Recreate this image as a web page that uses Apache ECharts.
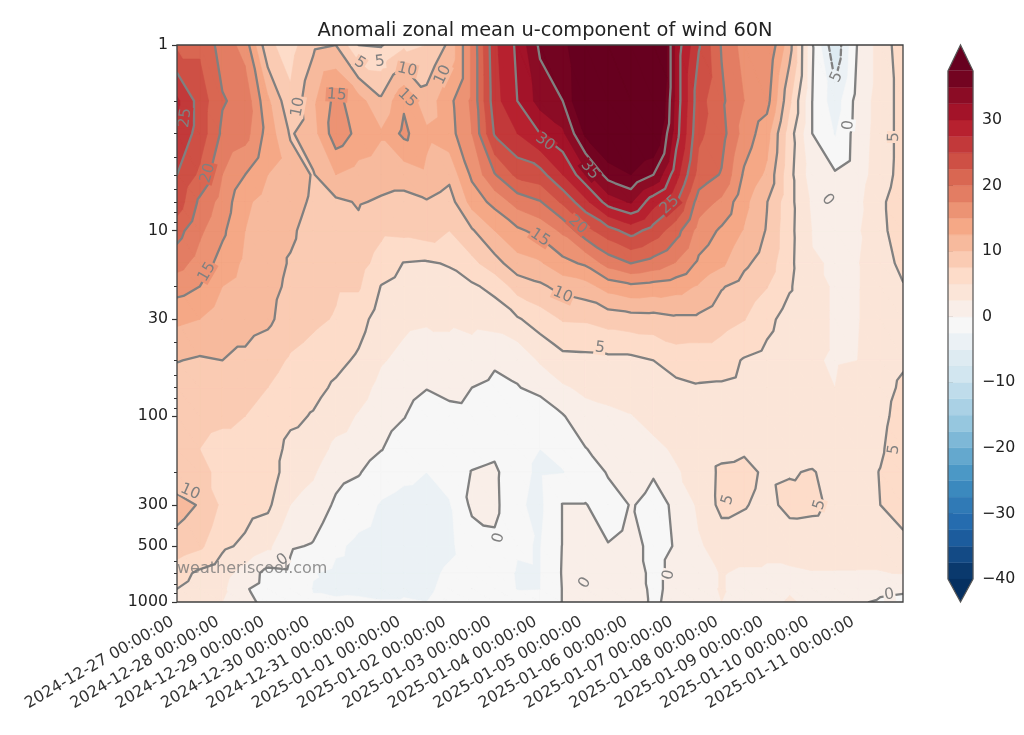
<!DOCTYPE html>
<html>
<head>
<meta charset="utf-8">
<title>Anomali zonal mean u-component of wind 60N</title>
<script src="https://cdn.jsdelivr.net/npm/echarts@6/dist/echarts.min.js"></script>
<style>
html,body{margin:0;padding:0;background:#fff;}
#main{width:1024px;height:735px;}
</style>
</head>
<body>
<div id="main"></div>
<script>
var titleText = 'Anomali zonal mean u-component of wind 60N';
var watermarkText = 'weatheriscool.com';

var dayLabels = ['2024-12-27 00:00:00','2024-12-28 00:00:00','2024-12-29 00:00:00','2024-12-30 00:00:00',
	'2024-12-31 00:00:00','2025-01-01 00:00:00','2025-01-02 00:00:00','2025-01-03 00:00:00',
	'2025-01-04 00:00:00','2025-01-05 00:00:00','2025-01-06 00:00:00','2025-01-07 00:00:00',
	'2025-01-08 00:00:00','2025-01-09 00:00:00','2025-01-10 00:00:00','2025-01-11 00:00:00'];
var dayTicks = [0,1,2,3,4,5,6,7,8,9,10,11,12,13,14,15];

var pressureTicks = [1,10,30,100,300,500,850,1000];
var pressureMinorTicks = [2,3,4,5,6,7,8,9,20,40,50,60,70,80,90,200,400,600,700,800,900];

//the field: one row per half day, one value per pressure level
var pressureLevels = [1,2,3,5,7,10,15,20,30,50,70,100,150,200,300,500,700,850,1000];
var windTimes = [0,0.5,1,1.5,2,2.5,3,3.5,4,4.5,5,5.5,6,6.5,7,7.5,8,8.5,9,9.5,10,10.5,11,11.5,12,12.5,13,13.5,14,14.5,15,15.5,16];
var windAnomaly = [
	[22,28,27,25,24,21,18.5,16,13,10.1,8.5,8,7.5,8,11,9,6,5,4],
	[22,24,24,22,19.5,18,16.5,15,12.5,9.7,8.5,8,7.5,8,9.8,8,4.5,4,3.5],
	[19,20.2,19.5,17.5,16.5,15.5,14,12.5,11,10,8.5,7.8,7,7,7,5.5,3.5,3,2.5],
	[16.5,19.2,18.5,15,13,12.5,12,11.5,11,9.5,8,7.5,7,6.5,6,4.5,1.5,0.2,0.6],
	[8,13,14,12.5,11.5,11,11,10.8,10.5,8.5,7.5,7,6.5,6.5,5.5,3,-0.8,-0.9,-0.6],
	[6.5,8,9.7,11.5,11,10.4,9.8,9.5,8.8,7.2,6.3,5.6,4.2,3.6,2.5,0.3,-0.5,-0.7,-0.7],
	[9.5,12,11.5,9.8,9.6,9,8.8,8.6,8,6.5,5.8,4.8,3.8,2.8,1.6,-0.2,-2.4,-2.6,-2.3],
	[10,15.8,16.5,12.5,9.5,8.5,8.2,7.8,7.3,5.7,4.6,3.5,1.9,0.8,-0.4,-2.1,-3,-2.8,-2.3],
	[5,13.5,14.3,11.5,10.2,9.5,8.5,7.8,6,4.6,3.5,2.3,1.4,0.2,-1.5,-3,-3.2,-2.9,-2.2],
	[4.8,10.5,12.8,11,9.7,8,6.5,4.9,3.8,2.7,1.8,1,0.1,-1.4,-2.7,-3.4,-3.4,-3,-2.4],
	[7,14.6,15.6,11,9.3,8.2,4.9,4,3,1.9,1,0.1,-1.2,-2,-3.2,-3.4,-3.1,-2.7,-2.4],
	[7.5,11,13,12,9.8,8.8,4.7,3.8,2.8,1.2,0.1,-1.3,-2.2,-2.5,-3.3,-3.5,-3,-2.8,-2.5],
	[10.5,14.3,14,10.7,8.8,7.5,5.2,4,2.8,1.8,0.7,-0.8,-1.8,-1.6,-2.7,-2.9,-2.2,-2,-1.8],
	[18,18,17.5,15.5,13.5,9.7,6.8,4.6,3.2,1.3,0,-0.6,-1,0.1,0.5,-1.3,-1.6,-1.5,-1.3],
	[27,26.5,25.3,19.8,15.8,12.5,9,5.7,3.5,0.3,-0.5,-0.8,-0.6,0.5,0.6,-0.5,-1.3,-1.2,-1],
	[30.5,30,27.5,23.2,18.5,14.5,11.5,8.5,4.7,0.6,-0.1,-1.5,-2,-2,-2.2,-2.3,-2.7,-2.6,-1.5],
	[35.5,33.5,30,24,19.8,15.8,12.2,9.5,6.2,2.8,0.6,-1.4,-2.5,-2.8,-3,-2.6,-2.6,-2.55,-1.8],
	[35.3,35,32,27.5,23,18,14.2,10.9,7.7,4.2,2.2,-0.2,-1.9,-2.6,0.1,0.1,0.2,0.1,0.1],
	[45,41,38,31.7,26.8,21.6,15.4,11.5,7.8,4.3,3,1.6,-0.1,-1.5,0.1,0.6,1,1.2,1.1],
	[46,44,41,36,31.1,24,18.5,13.5,8.5,4.4,3.3,2,1,0.2,-1,0.1,0.8,1,1],
	[47,45,42,37.5,32.8,26,20,14.4,8.9,4.4,3.4,2.4,1.5,0.7,0.1,0.6,1,1.3,1.3],
	[46,44,41,35,28.5,24,19,14,9,5,4.2,3.2,2,0.1,-0.4,-0.5,-0.5,-0.5,-0.4],
	[31.5,31.5,31,28.5,25.3,21,17.3,13.5,9.5,6.2,4.3,3.5,2.8,2.3,0.2,0.1,0.5,0.7,0.8],
	[25.2,23.5,23,21.5,18.8,16.5,14.5,12.2,9.5,6,4.8,3.8,3.3,3.2,3,2.2,1.8,2,2],
	[19.8,20.5,21,19.8,17,14.6,13,10.2,8.5,6,4.7,4,4,5.6,5.7,3.5,2.6,2.6,2.5],
	[16.5,17.5,16.5,14.6,13.2,12.3,10.5,9,7.6,4.8,4.4,4,4.6,5.8,5.2,3.5,2.2,2,2.1],
	[17.5,16,13.5,12,10.1,9.8,8.8,7.6,5.8,4.2,3.9,3.8,4,4.5,4.2,3,2.2,2,2.2],
	[11,8,6.2,5.8,5.8,5.7,5.6,5.3,3.8,3,2.7,2.7,3.6,4.8,5.8,3.3,2.2,2.4,2.6],
	[0.2,0,0,1.1,2,2.4,2.6,2.8,2.8,2.6,2.6,2.8,3.8,5.2,5.6,3.4,2.4,2,2.3],
	[-7,-3.9,-2.7,0.3,1.2,2,2.4,2.4,2.4,2.4,2.5,2.5,3.3,4,4.4,3.3,2.4,2.2,2.3],
	[0.2,1,1.2,1.4,1.8,2.2,2.4,2.4,2.4,2.5,3,3.3,3.7,3.9,4,3.2,2.4,1.6,0.3],
	[3.5,3.5,3.5,3.7,4.5,4.3,3.6,3.3,3.4,3.6,3.9,4.2,4.6,5.1,5,3.4,2.4,0.5,-0.3],
	[6.5,6,6,6,6.5,6.5,5.8,4.8,4,4.6,5.5,6.2,6.8,7,6.5,4,2.6,0.3,-0.5]
];

var fillLevels = [-40,-37.5,-35,-32.5,-30,-27.5,-25,-22.5,-20,-17.5,-15,-12.5,-10,-7.5,-5,-2.5,0,2.5,5,7.5,10,12.5,15,17.5,20,22.5,25,27.5,30,32.5,35,37.5];
var lineLevels = [-5,0,5,10,15,20,25,30,35];
var colorbarTicks = [-40,-30,-20,-10,0,10,20,30];

//contour labels: day, pressure, text
var contourLabelDays = [0.18,0.68,0.66,2.67,3.52,4.03,4.47,5.07,5.07,5.86,8.11,9.1,10.86,8.83,8,8.5,9.32,15.8,14.8,14.34,14.54,15.8,12.14,14.16,10.84,7.09,8.99,2.33,0.29,15.7];
var contourLabelPressures = [2.47,4.9,16.7,2.16,1.86,1.25,1.23,1.36,1.93,1.45,3.33,4.71,7.27,9.3,10.9,22.2,42.8,3.13,2.7,6.83,1.49,151,282,300,715,452,789,593,255,916];
var contourLabelTexts = ['25','20','15','10','15','5','5','10','15','10','30','35','25','20','15','10','5','5','0','0','5','5','5','5','0','0','0','0','10','0'];

var cmapNodes = ['#053061','#2166ac','#4393c3','#92c5de','#d1e5f0','#f7f7f7','#fddbc7','#f4a582','#d6604d','#b2182b','#67001f'];
var lineColor = '#808080';
var fontName = 'DejaVu Sans';

function hexRgb(h){
	return [parseInt(h.substr(1,2),16),parseInt(h.substr(3,2),16),parseInt(h.substr(5,2),16)];
}
//RdBu_r at position t
function cmap(t){
	var p = Math.max(0,Math.min(1,t))*(cmapNodes.length-1);
	var i = Math.min(Math.floor(p),cmapNodes.length-2);
	var a = hexRgb(cmapNodes[i]), b = hexRgb(cmapNodes[i+1]), f = p-i;
	return 'rgb('+Math.round(a[0]+(b[0]-a[0])*f)+','+Math.round(a[1]+(b[1]-a[1])*f)+','+Math.round(a[2]+(b[2]-a[2])*f)+')';
}
var levelLow = fillLevels[0], levelHigh = fillLevels[fillLevels.length-1];
function bandColor(lo){
	if(lo>=levelHigh) return cmapNodes[cmapNodes.length-1];
	if(lo<levelLow) return cmapNodes[0];
	return cmap((lo+1.25-levelLow)/(levelHigh-levelLow));
}

var logLevels = pressureLevels.map(function(p){return Math.log10(p);});
var nx = windTimes.length, ny = pressureLevels.length;

function sampleField(day,logp){
	var i = Math.max(0,Math.min(nx-2,Math.floor(day/0.5)));
	var j = 0;
	while(j<ny-2 && logLevels[j+1]<logp) j++;
	var fx = (day-windTimes[i])/(windTimes[i+1]-windTimes[i]);
	var fy = (logp-logLevels[j])/(logLevels[j+1]-logLevels[j]);
	return (1-fx)*((1-fy)*windAnomaly[i][j]+fy*windAnomaly[i][j+1])+fx*((1-fy)*windAnomaly[i+1][j]+fy*windAnomaly[i+1][j+1]);
}

//triangles of the grid, both with the same winding
function gridTriangles(){
	var tris = [];
	for(var i=0;i<nx-1;i++){
		for(var j=0;j<ny-1;j++){
			var a=i*ny+j, b=(i+1)*ny+j, c=(i+1)*ny+j+1, d=i*ny+j+1;
			tris.push([a,b,c]);
			tris.push([a,c,d]);
		}
	}
	return tris;
}

function renderField(params,api){
	var px=[],py=[],val=[];
	for(var i=0;i<nx;i++){
		for(var j=0;j<ny;j++){
			var pt = api.coord([windTimes[i],logLevels[j]]);
			px.push(pt[0]);py.push(pt[1]);val.push(windAnomaly[i][j]);
		}
	}
	var tris = gridTriangles();
	var children = [];

	//filled bands, painted from low to high
	fillLevels.forEach(function(lo,k){
		var d = [];
		var next = k<fillLevels.length-1 ? fillLevels[k+1] : Infinity;
		tris.forEach(function(t){
			var mn = Math.min(val[t[0]],val[t[1]],val[t[2]]);
			var mx = Math.max(val[t[0]],val[t[1]],val[t[2]]);
			if(mx<lo || mn>=next) return;
			var poly = [];
			for(var e=0;e<3;e++){
				var p=t[e], q=t[(e+1)%3];
				if(val[p]>=lo) poly.push([px[p],py[p]]);
				if((val[p]>=lo)!==(val[q]>=lo)){
					var f=(lo-val[p])/(val[q]-val[p]);
					poly.push([px[p]+(px[q]-px[p])*f,py[p]+(py[q]-py[p])*f]);
				}
			}
			poly.forEach(function(v,n){
				d.push((n?'L':'M')+v[0].toFixed(1)+' '+v[1].toFixed(1));
			});
			d.push('Z');
		});
		if(d.length){
			var col = bandColor(lo);
			children.push({type:'path',shape:{pathData:d.join('')},style:{fill:col,stroke:col,lineWidth:0.6}});
		}
	});

	//contour lines
	lineLevels.forEach(function(level){
		var L = level+1e-4;
		var segs = [], byEdge = {};
		tris.forEach(function(t){
			var cuts = [];
			for(var e=0;e<3;e++){
				var p=t[e], q=t[(e+1)%3];
				if((val[p]>=L)!==(val[q]>=L)){
					var f=(L-val[p])/(val[q]-val[p]);
					cuts.push({key:Math.min(p,q)+'_'+Math.max(p,q),x:px[p]+(px[q]-px[p])*f,y:py[p]+(py[q]-py[p])*f});
				}
			}
			if(cuts.length===2){
				var s = segs.length;
				segs.push(cuts);
				(byEdge[cuts[0].key]=byEdge[cuts[0].key]||[]).push(s);
				(byEdge[cuts[1].key]=byEdge[cuts[1].key]||[]).push(s);
			}
		});
		var used = {}, d = [];
		function walk(start,fromIdx){
			var cur=start, idx=fromIdx, line=[segs[cur][idx]];
			while(true){
				used[cur]=true;
				var out=segs[cur][1-idx];
				line.push(out);
				var nb=(byEdge[out.key]||[]).filter(function(s){return !used[s];});
				if(!nb.length) break;
				cur=nb[0];
				idx=segs[cur][0].key===out.key?0:1;
			}
			line.forEach(function(v,n){
				d.push((n?'L':'M')+v.x.toFixed(1)+' '+v.y.toFixed(1));
			});
		}
		//open lines start on the border edges
		segs.forEach(function(sg,s){
			if(used[s]) return;
			if(byEdge[sg[0].key].length===1) walk(s,0);
			else if(byEdge[sg[1].key].length===1) walk(s,1);
		});
		segs.forEach(function(sg,s){
			if(!used[s]) walk(s,0);
		});
		if(d.length){
			children.push({type:'path',shape:{pathData:d.join('')},style:{
				fill:null,stroke:lineColor,lineWidth:2.3,lineCap:'round',lineJoin:'round',
				lineDash:level<0?[6,3]:null
			}});
		}
	});

	//labels sit along the local contour direction
	contourLabelTexts.forEach(function(txt,k){
		var day=contourLabelDays[k], lp=Math.log10(contourLabelPressures[k]);
		var c=api.coord([day,lp]), c1=api.coord([day+0.1,lp]), c2=api.coord([day,lp+0.03]);
		var gx=(sampleField(day+0.1,lp)-sampleField(day-0.1,lp))/(2*(c1[0]-c[0])||1);
		var gy=(sampleField(day,lp+0.03)-sampleField(day,lp-0.03))/(2*(c2[1]-c[1])||1);
		var ang=Math.atan2(gx,gy);
		if(ang>Math.PI/2) ang-=Math.PI;
		if(ang<-Math.PI/2) ang+=Math.PI;
		var w=txt.length*10+2, v=sampleField(day,lp);
		var lo=Math.floor(v/2.5)*2.5;
		children.push({type:'rect',x:c[0],y:c[1],rotation:ang,shape:{x:-w/2,y:-7,width:w,height:14},style:{fill:bandColor(lo)}});
		children.push({type:'text',x:c[0],y:c[1],rotation:ang,style:{text:txt,fill:lineColor,font:'15.5px "'+fontName+'"',align:'center',verticalAlign:'middle'}});
	});
	return {type:'group',children:children};
}

function renderFrame(params,api){
	var cs = params.coordSys;
	return {type:'rect',shape:{x:cs.x,y:cs.y,width:cs.width,height:cs.height},style:{fill:null,stroke:'#404040',lineWidth:1.3}};
}

function renderColorbar(params,api){
	var children = [];
	var axisMax = 41.44, axisMin = -43.5;
	fillLevels.forEach(function(lo,k){
		if(k===fillLevels.length-1) return;
		var a=api.coord([0,lo]), b=api.coord([1,fillLevels[k+1]]);
		var col=bandColor(lo);
		children.push({type:'rect',shape:{x:a[0],y:b[1],width:b[0]-a[0],height:a[1]-b[1]},style:{fill:col,stroke:col,lineWidth:0.4}});
	});
	var tl=api.coord([0,levelHigh]), tr=api.coord([1,levelHigh]), tt=api.coord([0.5,axisMax]);
	var bl=api.coord([0,levelLow]), br=api.coord([1,levelLow]), bt=api.coord([0.5,axisMin]);
	children.push({type:'polygon',shape:{points:[tl,tr,tt]},style:{fill:bandColor(levelHigh)}});
	children.push({type:'polygon',shape:{points:[bl,br,bt]},style:{fill:bandColor(levelLow-1)}});
	children.push({type:'polygon',shape:{points:[tl,tt,tr,br,bt,bl]},style:{fill:null,stroke:'#555',lineWidth:1.2}});
	return {type:'group',children:children};
}

var option = {
	animation:false,
	backgroundColor:'#fff',
	textStyle:{fontFamily:fontName},
	title:{text:titleText,left:540,top:16,textAlign:'center',textStyle:{fontFamily:fontName,fontSize:19.4,fontWeight:'normal',color:'#222'}},
	graphic:[{type:'text',left:177,top:561,z:20,silent:true,style:{text:watermarkText,fill:'rgba(120,120,120,0.8)',font:'16px "'+fontName+'"'}}],
	grid:[
		{left:177,right:121,top:45,bottom:133},
		{left:948,width:25,top:45,bottom:133}
	],
	xAxis:[
		{type:'value',gridIndex:0,min:0,max:16,splitLine:{show:false},axisLine:{show:false},
			axisTick:{length:5,lineStyle:{color:'#333',width:1.2},customValues:dayTicks},
			axisLabel:{rotate:30,margin:16,padding:[0,5,0,0],fontSize:15.9,color:'#333',fontFamily:fontName,customValues:dayTicks,
				formatter:function(v){return dayLabels[Math.round(v)];}}},
		{type:'value',gridIndex:1,min:0,max:1,show:false}
	],
	yAxis:[
		{type:'value',gridIndex:0,position:'left',inverse:true,min:0,max:3,splitLine:{show:false},axisLine:{show:false},
			axisTick:{length:5,lineStyle:{color:'#333',width:1.2},customValues:pressureTicks.map(Math.log10)},
			axisLabel:{margin:9,fontSize:15.8,color:'#222',fontFamily:fontName,hideOverlap:false,showMinLabel:true,showMaxLabel:true,customValues:pressureTicks.map(Math.log10),
				formatter:function(v){return String(Math.round(Math.pow(10,v)));}}},
		{type:'value',gridIndex:0,position:'left',inverse:true,min:0,max:3,splitLine:{show:false},axisLine:{show:false},
			axisTick:{length:3,lineStyle:{color:'#333',width:1},customValues:pressureMinorTicks.map(Math.log10)},
			axisLabel:{show:false}},
		{type:'value',gridIndex:1,position:'right',min:-43.5,max:41.44,splitLine:{show:false},axisLine:{show:false},
			axisTick:{length:5,lineStyle:{color:'#333',width:1.2},customValues:colorbarTicks},
			axisLabel:{margin:9,fontSize:15.8,color:'#222',fontFamily:fontName,customValues:colorbarTicks,
				formatter:function(v){return String(v).replace('-','\u2212');}}}
	],
	series:[
		{type:'custom',xAxisIndex:0,yAxisIndex:0,clip:true,silent:true,data:[[0,0]],renderItem:renderField,z:2},
		{type:'custom',xAxisIndex:0,yAxisIndex:0,clip:false,silent:true,data:[[0,0]],renderItem:renderFrame,z:5},
		{type:'custom',xAxisIndex:1,yAxisIndex:2,clip:false,silent:true,data:[[0,0]],renderItem:renderColorbar,z:2}
	]
};

var myChart = echarts.init(document.getElementById('main'));
myChart.setOption(option);
</script>
</body>
</html>
